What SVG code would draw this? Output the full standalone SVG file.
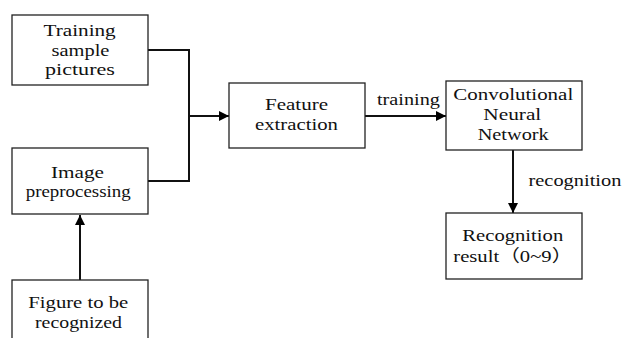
<svg xmlns="http://www.w3.org/2000/svg" width="623" height="338" viewBox="0 0 623 338">
<defs>
<marker id="ah" viewBox="0 0 10 10" refX="10" refY="5" markerWidth="5.5" markerHeight="5" orient="auto" markerUnits="strokeWidth">
<path d="M0,0 L10,5 L0,10 Z" fill="#000"/>
</marker>
<style>
.box{fill:#fff;stroke:#222;stroke-width:1.3}
.t{font-size:17px;fill:#111}
.c{fill:none;stroke:#111;stroke-width:2}
</style>
</defs>
<rect width="623" height="338" fill="#fff"/>
<g id="connectors" font-family="'Liberation Serif', serif">
<polyline class="c" points="148,50 189,50 189,181 148,181"/>
<line class="c" x1="189" y1="116" x2="229" y2="116" marker-end="url(#ah)"/>
<line class="c" x1="365" y1="116" x2="446" y2="116" marker-end="url(#ah)"/>
<line class="c" x1="513" y1="150" x2="513" y2="213" marker-end="url(#ah)"/>
<line class="c" x1="80" y1="280" x2="80" y2="215" marker-end="url(#ah)"/>
<text class="t" transform="translate(377,104.5) scale(1.19,1)">training</text>
<text class="t" transform="translate(528.5,186) scale(1.2,1)">recognition</text>
</g>
<g id="training-samples" font-family="'Liberation Serif', serif">
<rect class="box" x="12" y="15" width="136" height="70"/>
<text class="t" transform="translate(43.5,36) scale(1.247,1)">Training</text>
<text class="t" transform="translate(51.5,55.5) scale(1.204,1)">sample</text>
<text class="t" transform="translate(45,75) scale(1.3,1)">pictures</text>
</g>
<g id="image-preprocessing" font-family="'Liberation Serif', serif">
<rect class="box" x="12" y="148" width="136" height="66"/>
<text class="t" transform="translate(51,178.3) scale(1.248,1)">Image</text>
<text class="t" transform="translate(25.7,197.3) scale(1.112,1)">preprocessing</text>
</g>
<g id="figure" font-family="'Liberation Serif', serif">
<rect class="box" x="12" y="280" width="136" height="70"/>
<text class="t" transform="translate(28.3,308.3) scale(1.217,1)">Figure to be</text>
<text class="t" transform="translate(35,327.7) scale(1.167,1)">recognized</text>
</g>
<g id="feature-extraction" font-family="'Liberation Serif', serif">
<rect class="box" x="229" y="83" width="136" height="65"/>
<text class="t" transform="translate(265,110) scale(1.236,1)">Feature</text>
<text class="t" transform="translate(255,130) scale(1.221,1)">extraction</text>
</g>
<g id="cnn" font-family="'Liberation Serif', serif">
<rect class="box" x="446" y="81" width="136" height="69"/>
<text class="t" transform="translate(453.3,100) scale(1.233,1)">Convolutional</text>
<text class="t" transform="translate(483.3,120) scale(1.254,1)">Neural</text>
<text class="t" transform="translate(477.7,139.5) scale(1.194,1)">Network</text>
</g>
<g id="result" font-family="'Liberation Serif', serif">
<rect class="box" x="446" y="213" width="136" height="66"/>
<text class="t" transform="translate(462.3,240.5) scale(1.215,1)">Recognition</text>
<text class="t" transform="translate(453.3,262) scale(1.215,1)">result<tspan font-family="'Noto Sans CJK SC', sans-serif">（</tspan>0~9<tspan font-family="'Noto Sans CJK SC', sans-serif">）</tspan></text>
</g>
</svg>
